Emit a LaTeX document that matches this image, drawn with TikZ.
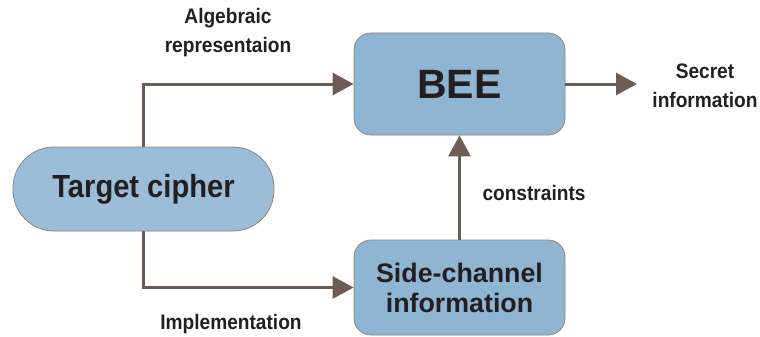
\documentclass[tikz,border=0pt]{standalone}
\usepackage{fontspec}
\setmainfont{Liberation Sans}
\newfontfamily\narrowfont[FakeStretch=0.91]{Liberation Sans}
\usetikzlibrary{arrows.meta}
\definecolor{boxfill}{HTML}{8FB5D2}
\definecolor{pillfill}{HTML}{9CBDD8}
\definecolor{boxline}{HTML}{8C8480}
\definecolor{arrowcol}{HTML}{6E5B53}
\definecolor{txt}{HTML}{231F20}
\begin{document}
\begin{tikzpicture}[x=1pt,y=-1pt,
  every node/.style={text=txt, font=\bfseries},
  rbox/.style={draw=boxline, line width=0.8pt, fill=boxfill, rounded corners=17pt,
    minimum width=211pt, inner sep=0pt, align=center},
  pill/.style={draw=boxline, line width=0.8pt, fill=pillfill, rounded corners=41pt,
    minimum width=261pt, minimum height=84pt, inner sep=0pt},
  conn/.style={draw=arrowcol, line width=3pt, -{Triangle[length=21pt,width=22pt]}},
  lbl/.style={font=\narrowfont\fontsize{21}{29}\selectfont\bfseries, align=center}]
\useasboundingbox (0,0) rectangle (760,337);
\node[rbox, minimum height=102pt, font=\fontsize{41}{41}\selectfont\bfseries] (bee) at (459.5,84) {BEE};
\node[pill, font=\narrowfont\fontsize{32}{32}\selectfont\bfseries] (tc) at (143.5,189) {Target cipher};
\node[rbox, minimum height=95pt, font=\fontsize{26.8}{30}\selectfont\bfseries] (sc) at (459.5,287.5) {Side-channel\\information};
\node[lbl] (alg) at (228,33) {Algebraic\\representaion};
\node[lbl] (sec) at (705,86) {Secret\\information};
\node[lbl] (con) at (534,193) {constraints};
\node[lbl] (imp) at (231,324) {Implementation};
\coordinate (secin) at (637,84);
\draw[conn] (tc.north -| 143,0) |- (bee.west);
\draw[conn] (tc.south -| 143,0) |- (sc.west);
\draw[conn] (sc.north) -- (bee.south);
\draw[conn] (bee.east) -- (secin);
\end{tikzpicture}
\end{document}
